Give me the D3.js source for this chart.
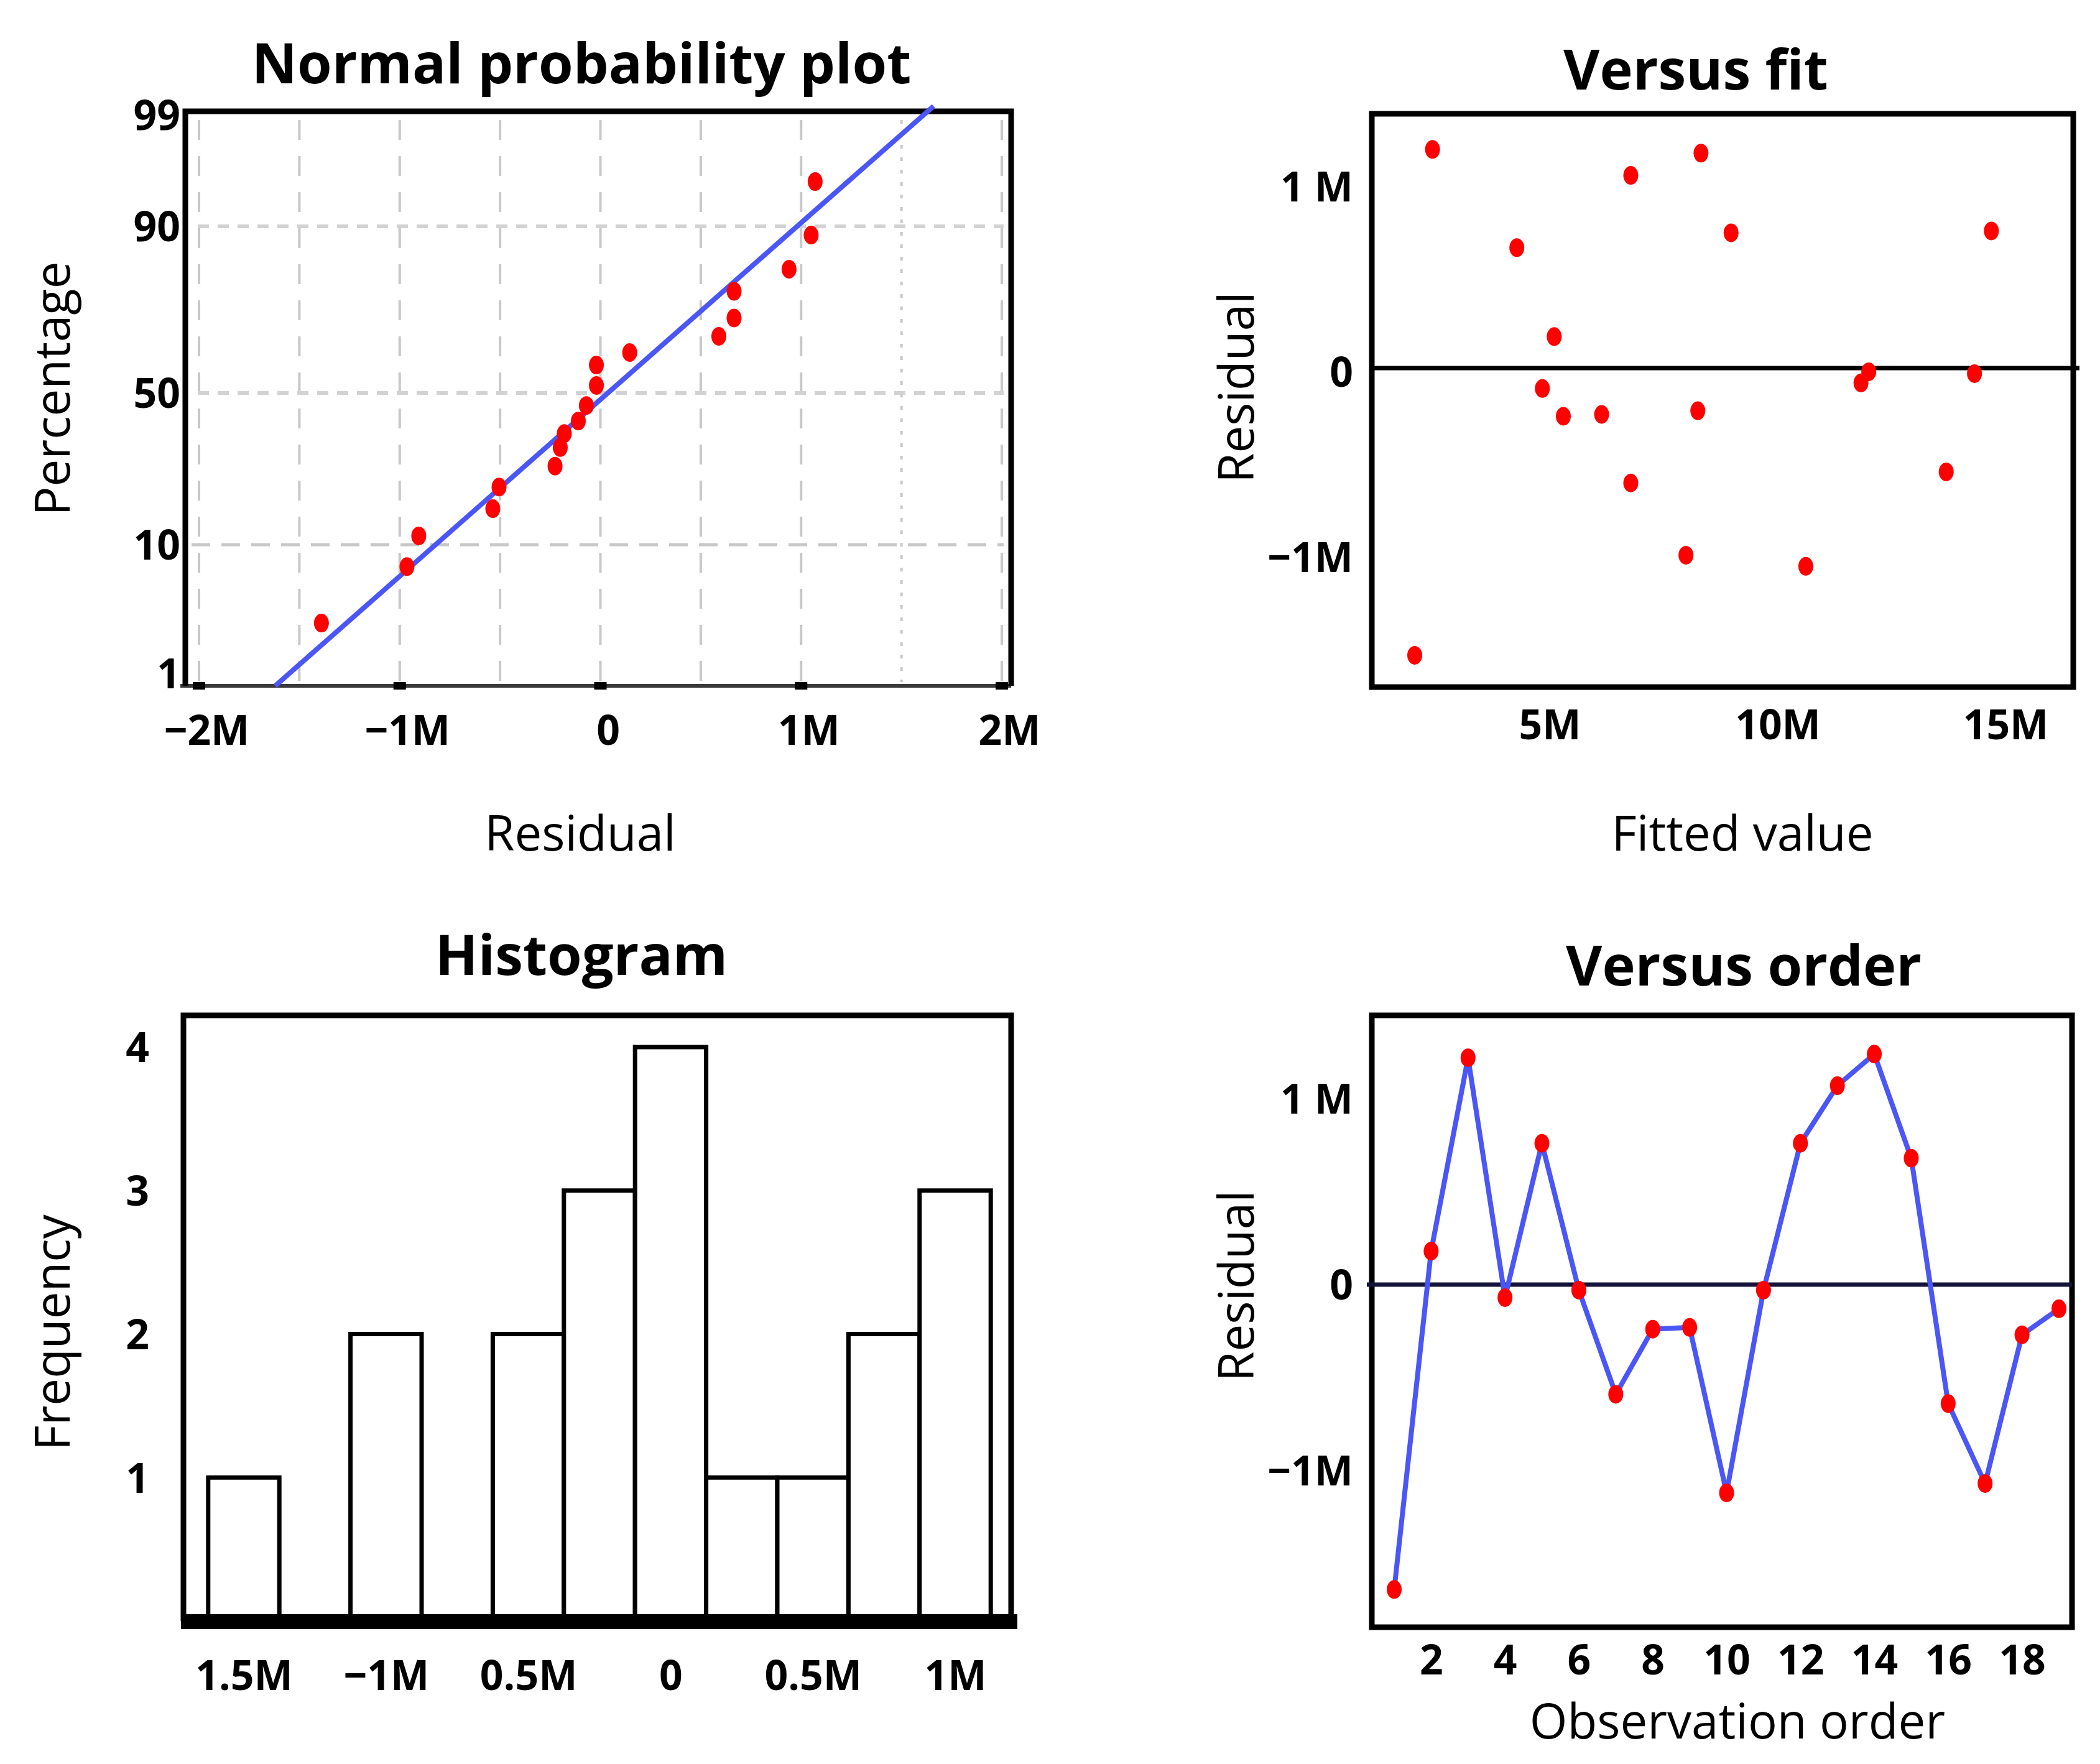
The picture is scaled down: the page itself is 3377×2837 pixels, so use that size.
<!DOCTYPE html>
<html><head><meta charset="utf-8">
<script src="https://cdn.jsdelivr.net/npm/d3@7"></script>
<style>body{margin:0;background:#fff}</style>
</head><body>
<script>
// ---------- DATA ----------
// Normal probability plot
const probResidual = [-1.39, -0.964, -0.905, -0.536, -0.505, -0.226, -0.20, -0.18, -0.11, -0.07, -0.02, -0.02, 0.146, 0.59, 0.666, 0.666, 0.94, 1.05, 1.07];
const probPercent  = [5.0, 8.6, 12.3, 19.5, 25.2, 30.7, 35.6, 39.3, 42.6, 46.7, 51.8, 56.7, 59.7, 63.6, 68.0, 74.4, 79.7, 87.9, 93.5];
const probFitResidual = [-1.62, 1.66];
const probFitPercent = [1, 99.4];
const probXTicks = [-2, -1, 0, 1, 2];
const probXTickLabels = ["\u22122M", "\u22121M", "0", "1M", "2M"];
const probXGrid = [-2, -1.5, -1, -0.5, 0, 0.5, 1, 1.5, 2];
const probYTicks = [1, 10, 50, 90, 99];
const probYGridDotted = [50, 90];
const probYGridDashed = [10];

// Versus fit
const fitValues    = [2.43, 4.28, 5.10, 4.84, 5.30, 6.14, 6.78, 6.78, 7.99, 8.32, 8.25, 8.98, 10.62, 11.83, 12.00, 13.70, 14.32, 14.69, 2.04];
const fitResiduals = [1.18, 0.65, 0.17, -0.11, -0.26, -0.25, 1.04, -0.62, -1.01, 1.16, -0.23, 0.73, -1.07, -0.08, -0.02, -0.56, -0.03, 0.74, -1.55];
const fitXTicks = [5, 10, 15];
const fitXTickLabels = ["5M", "10M", "15M"];
const residTicks = [-1, 0, 1];
const residTickLabels = ["\u22121M", "0", "1 M"];

// Histogram
const histCenters = [-1.5, -1.25, -1.0, -0.75, -0.5, -0.25, 0, 0.25, 0.5, 0.75, 1.0];
const histCounts  = [1, 0, 2, 0, 2, 3, 4, 1, 1, 2, 3];
const histBinWidth = 0.25;
const histXTicks = [-1.5, -1, -0.5, 0, 0.5, 1];
const histXTickLabels = ["1.5M", "\u22121M", "0.5M", "0", "0.5M", "1M"];
const histYTicks = [1, 2, 3, 4];

// Versus order
const orderResiduals = [-1.64, 0.18, 1.22, -0.07, 0.76, -0.03, -0.59, -0.24, -0.23, -1.12, -0.03, 0.76, 1.07, 1.24, 0.68, -0.64, -1.07, -0.27, -0.13];
const orderXTicks = [2, 4, 6, 8, 10, 12, 14, 16, 18];

// ---------- DRAW ----------
const W = 3377, H = 2837;
const svg = d3.select("body").append("svg").attr("width", W).attr("height", H)
  .style("font-family", "'Open Sans', sans-serif");

const RED = "#ff0000", BLUE = "#4b56f6", GRID = "#c8c8c8";
const TICKFONT = 66, TITLEFONT = 90, AXFONT = 78, FRAME = 9;

function title(txt, x, y) {
  svg.append("text").attr("x", x).attr("y", y).attr("text-anchor", "middle")
    .attr("font-weight", 700).attr("font-size", TITLEFONT).attr("fill", "#000").text(txt);
}
function axTitle(txt, x, y, rot) {
  const t = svg.append("text").attr("text-anchor", "middle").attr("font-size", AXFONT).attr("fill", "#000").text(txt);
  if (rot) t.attr("transform", `translate(${x},${y}) rotate(-90)`);
  else t.attr("x", x).attr("y", y);
}
function styleAxis(g, font) {
  g.select(".domain").remove();
  g.selectAll(".tick line").remove();
  g.selectAll("text").attr("font-family", "'Open Sans', sans-serif").attr("font-weight", 700)
    .attr("font-size", font || TICKFONT).attr("fill", "#000");
}
function bottomAxis(scale, vals, labels, baseline, dx) {
  const g = svg.append("g").attr("transform", `translate(${dx || 0},${baseline})`)
    .call(d3.axisBottom(scale).tickValues(vals).tickFormat((d, i) => labels[i]).tickSize(0));
  styleAxis(g);
  g.selectAll("text").attr("y", 0).attr("dy", null);
  return g;
}
function leftAxis(scale, vals, labels, xRight, dy) {
  const g = svg.append("g").attr("transform", `translate(${xRight},0)`)
    .call(d3.axisLeft(scale).tickValues(vals).tickFormat((d, i) => labels[i]).tickSize(0).tickPadding(0));
  styleAxis(g);
  g.selectAll("text").attr("dy", dy || "0.36em");
  return g;
}

// ===== Panel 1: Normal probability plot =====
{
  const L = 298, R = 1626, T = 179, B = 1103;
  const x = d3.scaleLinear().domain([-2, 2]).range([320, 1611]);
  const y = d3.scaleLinear().domain(probYTicks).range([1103, 876, 632, 364, 179]);
  const p = svg.append("g");
  // grid
  p.selectAll(".vg").data(probXGrid).join("line")
    .attr("x1", d => x(d)).attr("x2", d => x(d)).attr("y1", T + 14).attr("y2", B - 6)
    .attr("stroke", GRID).attr("stroke-width", 4).attr("stroke-dasharray", d => d === 1.5 ? "6,14" : "32,26");
  p.selectAll(".hg").data(probYGridDotted).join("line")
    .attr("x1", L + 20).attr("x2", R - 12).attr("y1", d => y(d)).attr("y2", d => y(d))
    .attr("stroke", "#d2d2d2").attr("stroke-width", 6).attr("stroke-dasharray", "18,14");
  p.selectAll(".hg2").data(probYGridDashed).join("line")
    .attr("x1", L + 10).attr("x2", R - 12).attr("y1", d => y(d)).attr("y2", d => y(d))
    .attr("stroke", GRID).attr("stroke-width", 5).attr("stroke-dasharray", "30,18");
  // frame
  p.append("line").attr("x1", L - 8).attr("x2", R).attr("y1", B).attr("y2", B).attr("stroke", "#3a3a3a").attr("stroke-width", 6);
  p.append("path").attr("d", `M${L},${B}V${T}H${R}V${B}`).attr("fill", "none").attr("stroke", "#000").attr("stroke-width", FRAME);
  // tick marks on bottom
  p.selectAll(".tk").data(probXTicks).join("rect")
    .attr("x", d => x(d) - 10).attr("y", B - 6).attr("width", 20).attr("height", 12).attr("fill", "#000");
  // fitted line
  p.append("line")
    .attr("x1", x(probFitResidual[0])).attr("y1", y(probFitPercent[0]))
    .attr("x2", x(probFitResidual[1])).attr("y2", y(probFitPercent[1]))
    .attr("stroke", BLUE).attr("stroke-width", 8);
  // points
  p.selectAll(".pt").data(probResidual).join("ellipse")
    .attr("cx", d => x(d)).attr("cy", (d, i) => y(probPercent[i]))
    .attr("rx", 12).attr("ry", 15).attr("fill", RED);
  // axes
  bottomAxis(x, probXTicks, probXTickLabels, 1198, 12);
  const gy = leftAxis(y, probYTicks, probYTicks.map(String), 290);
  gy.selectAll("text").filter(d => d === 1).attr("y", -20);
  gy.selectAll("text").filter(d => d === 99).attr("y", 6);
  title("Normal probability plot", 935, 134);
  axTitle("Residual", 933, 1368);
  axTitle("Percentage", 112, 625, true);
}

// ===== Panel 2: Versus fit =====
{
  const L = 2206, R = 3334, T = 183, B = 1105;
  const x = d3.scaleLinear().domain([5, 15]).range([2492, 3225]);
  const y = d3.scaleLinear().domain([-1, 1]).range([890, 294]);
  const p = svg.append("g");
  p.append("rect").attr("x", L).attr("y", T).attr("width", R - L).attr("height", B - T)
    .attr("fill", "none").attr("stroke", "#000").attr("stroke-width", FRAME);
  p.append("line").attr("x1", L).attr("x2", R + 10).attr("y1", y(0)).attr("y2", y(0))
    .attr("stroke", "#000").attr("stroke-width", 7);
  p.selectAll(".pt").data(fitValues).join("ellipse")
    .attr("cx", d => x(d)).attr("cy", (d, i) => y(fitResiduals[i]))
    .attr("rx", 12).attr("ry", 15).attr("fill", RED);
  bottomAxis(x, fitXTicks, fitXTickLabels, 1189, 0);
  const gy = leftAxis(y, residTicks, residTickLabels, 2176);
  gy.selectAll("text").attr("dy", "0.45em");
  title("Versus fit", 2727, 144);
  axTitle("Fitted value", 2802, 1368);
  axTitle("Residual", 2016, 623, true);
}

// ===== Panel 3: Histogram =====
{
  const L = 295, R = 1626, T = 1633, B = 2607;
  const x = d3.scaleLinear().domain([-1.5, 1.0]).range([392, 1536]);
  const y = d3.scaleLinear().domain([0, 4]).range([B, 1684]);
  const p = svg.append("g");
  p.append("path").attr("d", `M${L},${B}V${T}H${R}V${B}`).attr("fill", "none").attr("stroke", "#000").attr("stroke-width", FRAME);
  const bins = histCenters.map((c, i) => ({ c, n: histCounts[i] })).filter(d => d.n > 0);
  p.selectAll(".bar").data(bins).join("rect")
    .attr("x", d => x(d.c - histBinWidth / 2)).attr("width", d => x(d.c + histBinWidth / 2) - x(d.c - histBinWidth / 2))
    .attr("y", d => y(d.n)).attr("height", d => y(0) - y(d.n))
    .attr("fill", "#fff").attr("stroke", "#000").attr("stroke-width", 7);
  p.append("rect").attr("x", L - 4).attr("y", B - 11).attr("width", R - L + 14).attr("height", 24).attr("fill", "#000");
  bottomAxis(x, histXTicks, histXTickLabels, 2718, 0);
  leftAxis(y, histYTicks, histYTicks.map(String), 240);
  title("Histogram", 935, 1568);
  axTitle("Frequency", 112, 2143, true);
}

// ===== Panel 4: Versus order =====
{
  const L = 2206, R = 3332, T = 1633, B = 2617;
  const x = d3.scaleLinear().domain([1, 19]).range([2242, 3311]);
  const y = d3.scaleLinear().domain([-1, 1]).range([2365, 1767]);
  const p = svg.append("g");
  p.append("rect").attr("x", L).attr("y", T).attr("width", R - L).attr("height", B - T)
    .attr("fill", "none").attr("stroke", "#000").attr("stroke-width", FRAME);
  p.append("line").attr("x1", L - 8).attr("x2", R).attr("y1", y(0)).attr("y2", y(0))
    .attr("stroke", "#14143a").attr("stroke-width", 7);
  const line = d3.line().x((d, i) => x(i + 1)).y(d => y(d));
  p.append("path").datum(orderResiduals).attr("d", line)
    .attr("fill", "none").attr("stroke", BLUE).attr("stroke-width", 8).attr("stroke-linejoin", "round");
  p.selectAll(".pt").data(orderResiduals).join("ellipse")
    .attr("cx", (d, i) => x(i + 1)).attr("cy", d => y(d))
    .attr("rx", 12).attr("ry", 15).attr("fill", RED);
  bottomAxis(x, orderXTicks, orderXTicks.map(String), 2693, 0);
  const gy = leftAxis(y, residTicks, residTickLabels, 2176);
  gy.selectAll("text").attr("dy", "0.36em");
  title("Versus order", 2804, 1585);
  axTitle("Observation order", 2794, 2796);
  axTitle("Residual", 2016, 2068, true);
}
</script>
</body></html>
